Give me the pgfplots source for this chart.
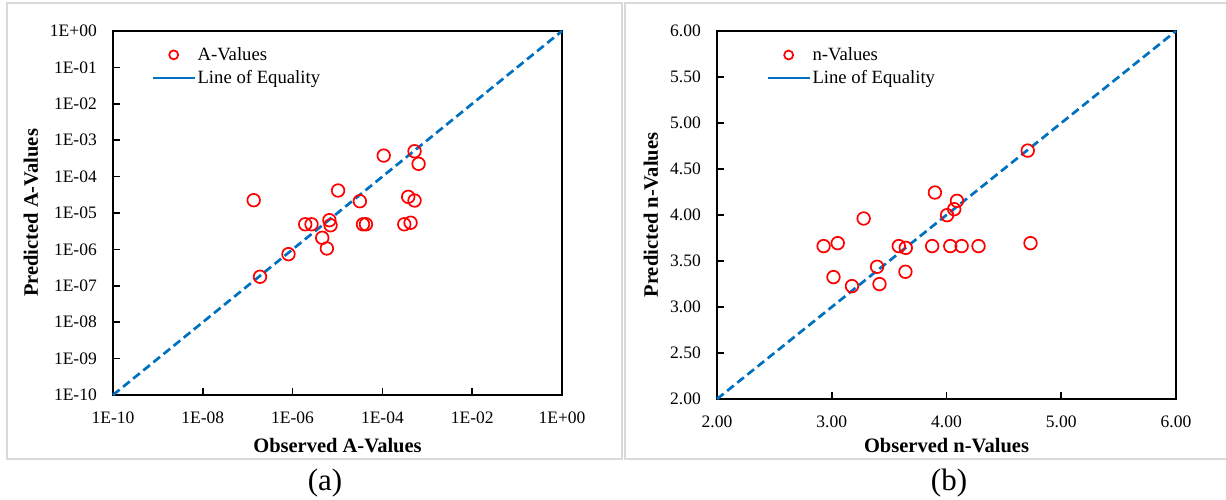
\documentclass[border=0pt]{standalone}
\usepackage{pgfplots}
\pgfplotsset{compat=1.18}
\usepackage{fontspec}
\setmainfont{Liberation Serif}
\definecolor{eqblue}{RGB}{0,112,192}
\definecolor{framegray}{RGB}{217,217,217}
\newcommand{\tickfont}{\fontsize{17.5}{21}\selectfont}
\newcommand{\labfont}{\fontsize{20.5}{24}\selectfont\bfseries}
\newcommand{\legfont}{\fontsize{18.7}{22}\selectfont}
\pgfplotsset{
  common/.style={
    scale only axis,
    anchor=south west,
    axis line style={line width=1.9pt, black},
    tick align=inside,
    tick pos=left,
    major tick length=7pt,
    every tick/.style={line width=1.6pt, black},
    minor tick style={draw=none},
    xticklabel style={font=\tickfont, inner sep=0pt, anchor=north, yshift=-17pt},
    yticklabel style={font=\tickfont, inner sep=0pt, anchor=east, xshift=-16pt},
    label style={font=\labfont},
    clip=false,
    legend style={draw=none, fill=none, font=\legfont, inner sep=0pt,
      row sep=5.5pt, nodes={inner sep=1.5pt}, anchor=north west},
    legend cell align=left,
  },
  pts/.style={only marks, mark=o, red, mark size=6.3pt, line width=1.7pt,
    legend image code/.code={\draw[##1, mark size=4.5pt] plot coordinates {(21pt,0pt)};}},
  eq/.style={eqblue, line width=2.7pt, dash pattern=on 8.5pt off 4.5pt,
    legend image code/.code={\draw[##1, solid] (0pt,0pt) -- (42pt,0pt);}},
}
\begin{document}
\begin{tikzpicture}[x=1pt,y=1pt]
\path[use as bounding box] (0,0) rectangle (1226,500);
\draw[framegray, line width=2pt] (6.7,497.3) rectangle (622,40.7);
\draw[framegray, line width=2pt] (624.5,497.3) rectangle (1232,40.7);

\begin{axis}[common,
  at={(113pt,105pt)}, width=449pt, height=364pt,
  xmode=log, ymode=log,
  xmin=1e-10, xmax=1, ymin=1e-10, ymax=1,
  xtick={1e-10,1e-8,1e-6,1e-4,1e-2,1},
  xticklabels={1E-10,1E-08,1E-06,1E-04,1E-02,1E+00},
  ytick={1e-10,1e-9,1e-8,1e-7,1e-6,1e-5,1e-4,1e-3,1e-2,1e-1,1},
  yticklabels={1E-10,1E-09,1E-08,1E-07,1E-06,1E-05,1E-04,1E-03,1E-02,1E-01,1E+00},
  xlabel={Observed A-Values},
  ylabel={Predicted A-Values},
  xlabel style={at={(axis description cs:0.5,-0.140)}, anchor=center},
  ylabel style={at={(axis description cs:-0.1826,0.5)}, anchor=center},
  legend style={at={(axis description cs:0.085,0.959)}},
]
\addplot[pts] coordinates {
(1.36e-7,2.25e-5) (1.88e-7,1.77e-7) (8.1e-7,7.4e-7) (1.91e-6,4.9e-6)
(2.64e-6,4.9e-6) (4.57e-6,2.08e-6) (5.8e-6,1.06e-6) (6.6e-6,6.35e-6)
(7.0e-6,4.6e-6) (1.03e-5,4.15e-5) (3.15e-5,2.11e-5) (3.7e-5,4.9e-6)
(4.3e-5,4.9e-6) (1.07e-4,3.78e-4) (3.07e-4,4.9e-6) (4.25e-4,5.4e-6)
(3.76e-4,2.78e-5) (5.2e-4,2.2e-5) (5.2e-4,4.97e-4) (6.4e-4,2.24e-4)
};
\addlegendentry{A-Values}
\addplot[eq] coordinates {(1e-10,1e-10) (1,1)};
\addlegendentry{Line of Equality}
\end{axis}

\begin{axis}[common,
  at={(717pt,101pt)}, width=459pt, height=368pt,
  xmin=2, xmax=6, ymin=2, ymax=6,
  xtick={2,3,4,5,6},
  xticklabels={2.00,3.00,4.00,5.00,6.00},
  ytick={2,2.5,3,3.5,4,4.5,5,5.5,6},
  yticklabels={2.00,2.50,3.00,3.50,4.00,4.50,5.00,5.50,6.00},
  xlabel={Observed n-Values},
  ylabel={Predicted n-Values},
  xlabel style={at={(axis description cs:0.5,-0.1277)}, anchor=center},
  ylabel style={at={(axis description cs:-0.1438,0.5)}, anchor=center},
  legend style={at={(axis description cs:0.107,0.959)}},
]
\addplot[pts] coordinates {
(2.929,3.662) (3.052,3.694) (3.015,3.325) (3.176,3.227) (3.278,3.962)
(3.395,3.437) (3.416,3.249) (3.584,3.662) (3.645,3.643) (3.642,3.383)
(3.875,3.662) (3.899,4.244) (4.005,3.998) (4.033,3.662) (4.067,4.063)
(4.091,4.154) (4.132,3.662) (4.279,3.662) (4.708,4.700) (4.732,3.694)
};
\addlegendentry{n-Values}
\addplot[eq] coordinates {(2,2) (6,6)};
\addlegendentry{Line of Equality}
\end{axis}

\node[font=\fontsize{31}{36}\selectfont] at (325,17) {(a)};
\node[font=\fontsize{31}{36}\selectfont] at (949,17) {(b)};
\end{tikzpicture}
\end{document}
